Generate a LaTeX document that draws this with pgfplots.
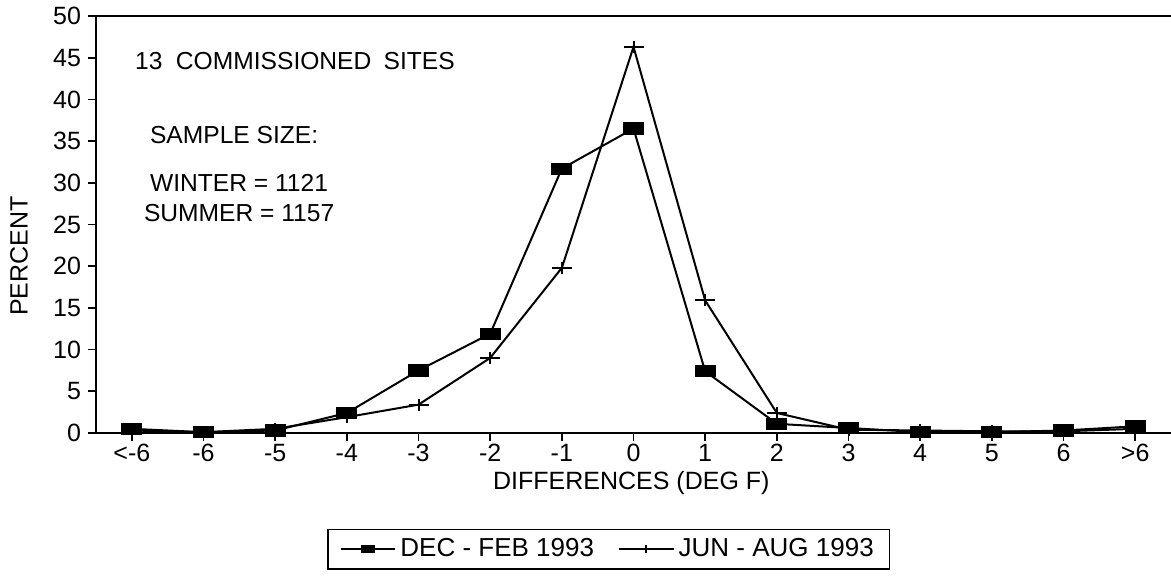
\documentclass[border=0pt]{standalone}
\usepackage{fontspec}
\setmainfont{Liberation Sans}
\usepackage{pgfplots}
\pgfplotsset{compat=1.18}

\newcommand{\annfont}{\fontsize{12.3pt}{14pt}\selectfont}
\newcommand{\tickfont}{\fontsize{12.5pt}{14pt}\selectfont}
\newcommand{\labfont}{\fontsize{12.5pt}{14pt}\selectfont}
\newcommand{\legfont}{\fontsize{13pt}{15pt}\selectfont}

\begin{document}
\begin{tikzpicture}
\begin{axis}[
    at={(0,0)}, anchor=south west,
    scale only axis,
    width=537.5pt, height=208.5pt,
    axis x line*=box, axis y line*=left,
    axis line style={-, line width=1.2pt},
    every outer y axis line/.append style={-},
    every outer x axis line/.append style={-},
    xmin=-0.5, xmax=14.5,
    ymin=0, ymax=50,
    xtick={0,...,14},
    xticklabels={<-6,-6,-5,-4,-3,-2,-1,0,1,2,3,4,5,6,>6},
    ytick={0,5,...,50},
    xtick pos=bottom, ytick pos=left,
    tick align=outside,
    major tick length=4pt,
    tick style={black, line width=0.9pt},
    ticklabel style={font=\tickfont},
    xticklabel style={yshift=2pt},
    /pgf/number format/assume math mode=true,
    xlabel={DIFFERENCES (DEG F)},
    ylabel={PERCENT},
    every axis x label/.style={at={(axis description cs:0.498,-0.12)}, anchor=center, font=\labfont},
    every axis y label/.style={at={(axis description cs:-0.0716,0.424)}, rotate=90, anchor=center, font=\labfont},
    legend style={
        at={(axis description cs:0.477,-0.279)}, anchor=center,
        draw=black, line width=0.7pt,
        font=\legfont,
        inner xsep=6pt, inner ysep=2.5pt,
        /tikz/every even column/.append style={column sep=10pt},
    },
    legend columns=2,
    legend image code/.code={
        \draw[mark repeat=2, mark phase=2, every mark/.append style={scale=0.65}]
            plot coordinates {(0cm,0cm) (0.48cm,0cm) (0.96cm,0cm)};
    },
    clip=false,
]
% DEC - FEB 1993 (winter)
\addplot[black, line width=1pt, mark=square*,
    mark options={xscale=1.8, line width=0.5pt}, mark size=2.8pt]
    coordinates {
    (0,0.5) (1,0.1) (2,0.3) (3,2.4) (4,7.5) (5,11.9) (6,31.7) (7,36.5)
    (8,7.4) (9,1.1) (10,0.6) (11,0.1) (12,0.1) (13,0.3) (14,0.8)
    };
\addlegendentry{DEC - FEB 1993}

% JUN - AUG 1993 (summer)
\addplot[black, line width=1pt, mark=+,
    mark options={yscale=0.6, line width=1pt}, mark size=5pt]
    coordinates {
    (0,0.3) (1,0.1) (2,0.5) (3,1.9) (4,3.4) (5,9.0) (6,19.8) (7,46.3)
    (8,15.9) (9,2.4) (10,0.4) (11,0.3) (12,0.2) (13,0.2) (14,0.5)
    };
\addlegendentry{JUN - AUG 1993}

\node[anchor=west, font=\annfont] at (axis description cs:0.0298,0.892) {13\hspace{0.55em}COMMISSIONED\hspace{0.5em}SITES};
\node[anchor=west, font=\annfont] at (axis description cs:0.0437,0.7146) {SAMPLE SIZE:};
\node[anchor=west, font=\annfont] at (axis description cs:0.0437,0.6) {WINTER = 1121};
\node[anchor=west, font=\annfont] at (axis description cs:0.0381,0.5276) {SUMMER = 1157};
\end{axis}
\pgfresetboundingbox
\path[use as bounding box] (-48pt,-72pt) rectangle (537.5pt,216.5pt);
\end{tikzpicture}
\end{document}
